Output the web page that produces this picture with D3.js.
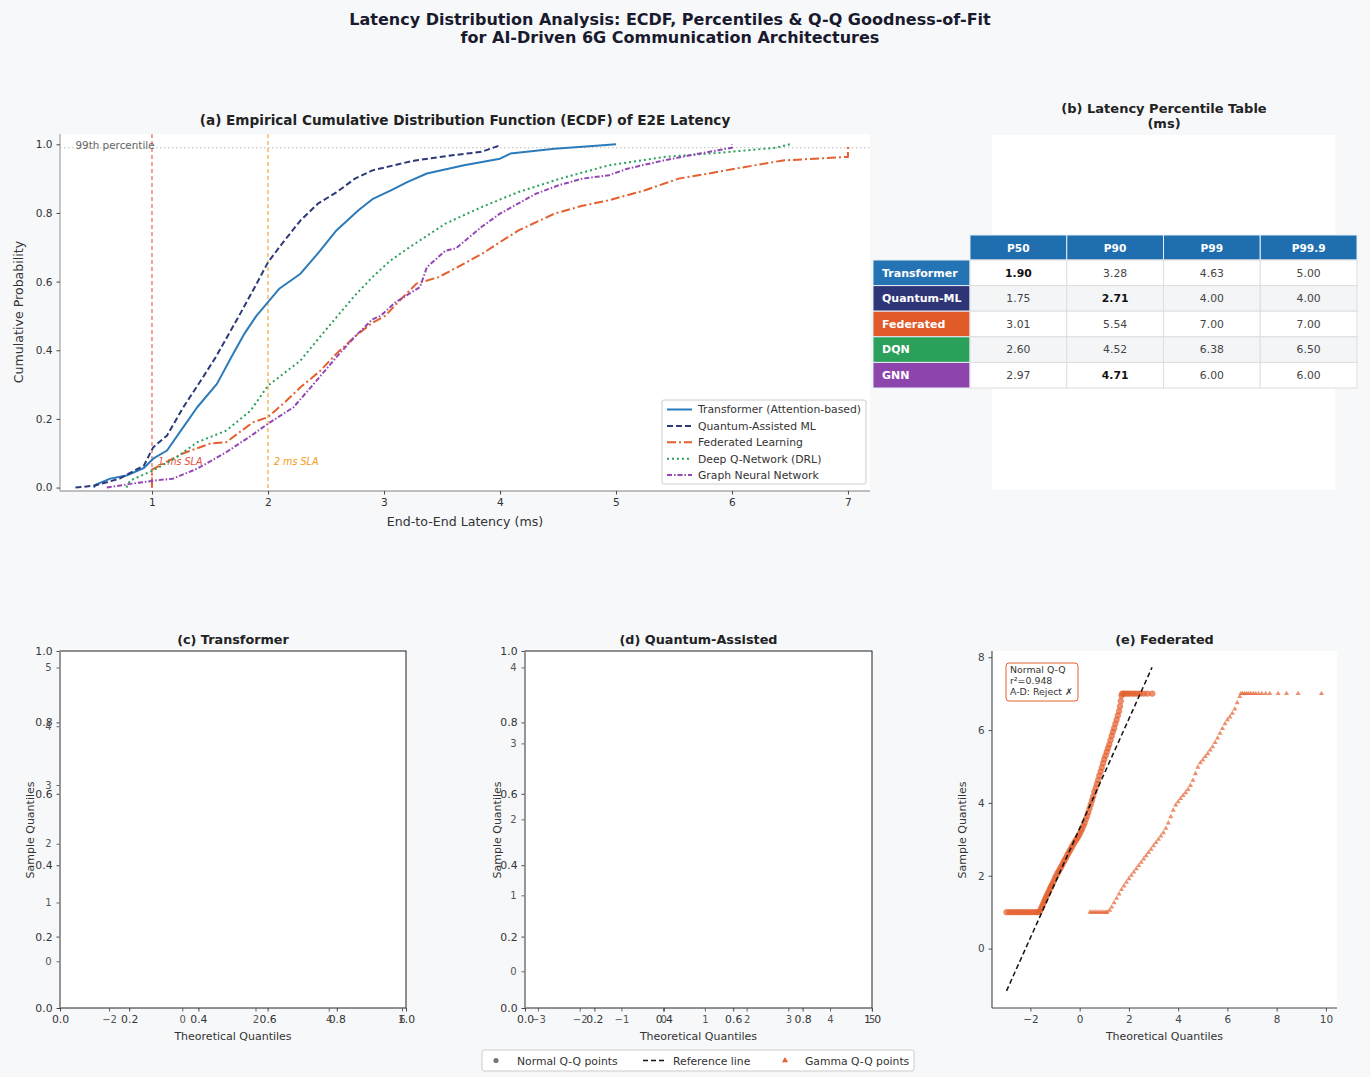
<!DOCTYPE html>
<html><head><meta charset="utf-8">
<script src="https://cdn.jsdelivr.net/npm/d3@7"></script>
<style>body{margin:0;background:#f7f8fa} text{font-family:"DejaVu Sans",sans-serif}</style>
</head><body><svg id="c" width="1370" height="1077"></svg>
<script>
// ---------------- DATA ----------------
const models = ["Transformer (Attention-based)","Quantum-Assisted ML","Federated Learning","Deep Q-Network (DRL)","Graph Neural Network"];
const modelColors = ["#2b7bba","#2c3a7a","#e4602e","#2ca05a","#9446b5"];
const modelDash = ["none","6,3","9,3,2,3","2,3","5,2,1.5,2"];

const ecdfTransformer = [[0.50,0.0],[0.51,0.008],[0.64,0.026],[0.78,0.035],[0.93,0.057],[1.01,0.084],[1.13,0.108],[1.27,0.176],[1.39,0.234],[1.56,0.302],[1.70,0.39],[1.80,0.45],[1.90,0.50],[2.00,0.54],[2.10,0.58],[2.28,0.623],[2.45,0.69],[2.59,0.749],[2.78,0.808],[2.90,0.84],[3.06,0.866],[3.20,0.89],[3.37,0.915],[3.69,0.939],[4.00,0.958],[4.09,0.973],[4.47,0.987],[4.80,0.995],[5.00,1.0]];
const ecdfQuantum = [[0.34,0.0],[0.51,0.006],[0.72,0.026],[0.93,0.064],[1.01,0.117],[1.13,0.152],[1.27,0.234],[1.41,0.306],[1.55,0.38],[1.65,0.44],[1.75,0.50],[1.88,0.58],[2.00,0.656],[2.12,0.71],[2.28,0.778],[2.43,0.827],[2.59,0.86],[2.75,0.90],[2.90,0.924],[3.15,0.944],[3.27,0.953],[3.59,0.968],[3.84,0.978],[4.00,0.997],[4.00,1.0]];
const ecdfFederated = [[1.00,0.0],[1.00,0.052],[1.10,0.07],[1.27,0.10],[1.50,0.128],[1.64,0.132],[1.75,0.16],[1.87,0.19],[2.00,0.205],[2.15,0.25],[2.28,0.292],[2.45,0.34],[2.59,0.39],[2.75,0.44],[2.90,0.48],[3.01,0.50],[3.15,0.55],[3.28,0.594],[3.47,0.613],[3.65,0.645],[3.84,0.68],[4.00,0.715],[4.16,0.749],[4.47,0.798],[4.70,0.82],[4.94,0.837],[5.25,0.866],[5.54,0.90],[5.80,0.915],[6.03,0.929],[6.44,0.953],[6.98,0.963],[7.00,0.963],[7.00,1.0]];
const ecdfDQN = [[0.78,0.0],[0.81,0.02],[1.01,0.05],[1.21,0.088],[1.39,0.132],[1.64,0.166],[1.85,0.224],[2.00,0.297],[2.28,0.37],[2.45,0.44],[2.60,0.50],[2.75,0.56],[2.90,0.613],[3.05,0.66],[3.22,0.70],[3.53,0.769],[3.84,0.817],[4.16,0.861],[4.52,0.90],[4.94,0.939],[5.41,0.963],[5.88,0.975],[6.38,0.99],[6.50,1.0]];
const ecdfGNN = [[0.61,0.0],[0.80,0.01],[1.01,0.02],[1.18,0.026],[1.39,0.055],[1.64,0.103],[1.85,0.15],[2.00,0.186],[2.22,0.234],[2.42,0.312],[2.59,0.38],[2.75,0.44],[2.90,0.49],[2.97,0.50],[3.10,0.54],[3.31,0.584],[3.37,0.642],[3.53,0.69],[3.62,0.697],[3.84,0.759],[4.00,0.798],[4.31,0.856],[4.50,0.88],[4.71,0.90],[4.94,0.91],[5.10,0.929],[5.41,0.953],[5.72,0.973],[6.00,0.99],[6.00,1.0]];
const ecdfSeries = [ecdfTransformer, ecdfQuantum, ecdfFederated, ecdfDQN, ecdfGNN];

const ecdfXTicks = [1,2,3,4,5,6,7];
const ecdfYTicks = [0,0.2,0.4,0.6,0.8,1.0];
const slaLines = [{x:1,label:"1 ms SLA",color:"#e74c3c"},{x:2,label:"2 ms SLA",color:"#f39c12"}];
const p99Level = 0.99;

const tableRows = ["Transformer","Quantum-ML","Federated","DQN","GNN"];
const tableRowColors = ["#2474b5","#2d3577","#e05a2a","#2aa05a","#8e44ad"];
const percentileCols = ["P50","P90","P99","P99.9"];
const tableValues = [[1.90,3.28,4.63,5.00],[1.75,2.71,4.00,4.00],[3.01,5.54,7.00,7.00],[2.60,4.52,6.38,6.50],[2.97,4.71,6.00,6.00]];
const tableBold = [[0],[1],[],[],[1]];

const unitTicks = [0,0.2,0.4,0.6,0.8,1.0];
const transformerQQXTicks = [-2,0,2,4,6];
const transformerQQYTicks = [0,1,2,3,4,5];
const quantumQQXTicks = [-3,-2,-1,0,1,2,3,4,5];
const quantumQQYTicks = [0,1,2,3,4];
const federatedQQXTicks = [-2,0,2,4,6,8,10];
const federatedQQYTicks = [0,2,4,6,8];

const fedNormalQQ = [[-2.97,1],[-2.85,1],[-2.75,1],[-2.65,1],[-2.55,1],[-2.45,1],[-2.35,1],[-2.25,1],[-2.15,1],[-2.05,1],[-1.95,1],[-1.85,1],[-1.75,1],[-1.68,1],
[-1.62,1.02],[-1.58,1.08],[-1.54,1.14],[-1.50,1.20],[-1.46,1.27],[-1.42,1.33],[-1.38,1.39],[-1.34,1.45],[-1.30,1.50],[-1.26,1.56],[-1.22,1.62],[-1.18,1.68],[-1.14,1.73],[-1.10,1.79],[-1.05,1.86],[-1.00,1.94],[-0.95,2.00],[-0.90,2.07],[-0.85,2.13],[-0.80,2.19],[-0.75,2.25],[-0.70,2.31],[-0.65,2.38],[-0.60,2.44],[-0.55,2.50],[-0.50,2.57],[-0.45,2.63],[-0.40,2.69],[-0.35,2.75],[-0.30,2.81],[-0.25,2.87],[-0.20,2.93],[-0.15,2.98],[-0.10,3.03],[-0.05,3.09],[0.00,3.15],[0.05,3.22],[0.10,3.29],[0.15,3.37],[0.20,3.45],[0.25,3.55],[0.30,3.64],[0.35,3.74],[0.40,3.85],[0.45,3.96],[0.50,4.07],[0.55,4.18],[0.60,4.30],[0.65,4.41],[0.70,4.52],[0.75,4.63],[0.80,4.75],[0.85,4.86],[0.90,4.97],[0.95,5.09],[1.00,5.20],[1.05,5.30],[1.10,5.40],[1.15,5.50],[1.20,5.60],[1.25,5.72],[1.30,5.84],[1.35,5.95],[1.40,6.05],[1.45,6.17],[1.50,6.28],[1.55,6.40],[1.60,6.52],[1.64,6.65],[1.67,6.80],[1.70,6.95],
[1.73,7],[1.80,7],[1.88,7],[1.96,7],[2.05,7],[2.15,7],[2.25,7],[2.35,7],[2.47,7],[2.60,7],[2.75,7],[2.95,7]];
const fedGammaQQ = [[0.42,1],[0.50,1],[0.58,1],[0.66,1],[0.74,1],[0.82,1],[0.90,1],[0.98,1],[1.06,1],[1.12,1],
[1.22,1.05],[1.30,1.14],[1.40,1.26],[1.50,1.38],[1.60,1.50],[1.70,1.62],[1.80,1.72],[1.90,1.82],[2.00,1.92],[2.10,2.01],[2.20,2.10],[2.30,2.19],[2.40,2.28],[2.50,2.37],[2.60,2.46],[2.70,2.55],[2.80,2.64],[2.90,2.73],[3.00,2.82],[3.10,2.91],[3.20,3.00],[3.30,3.09],[3.40,3.18],[3.50,3.30],[3.60,3.45],[3.70,3.62],[3.80,3.80],[3.90,3.94],[4.00,4.03],[4.10,4.12],[4.20,4.20],[4.30,4.28],[4.40,4.37],[4.50,4.48],[4.60,4.62],[4.70,4.80],[4.80,4.98],[4.90,5.10],[5.00,5.18],[5.10,5.27],[5.20,5.35],[5.30,5.45],[5.40,5.54],[5.50,5.66],[5.60,5.78],[5.70,5.91],[5.80,6.04],[5.90,6.17],[6.00,6.28],[6.10,6.36],[6.20,6.46],[6.30,6.58],[6.40,6.75],[6.50,6.92],
[6.55,7],[6.62,7],[6.70,7],[6.78,7],[6.86,7],[6.95,7],[7.05,7],[7.15,7],[7.27,7],[7.40,7],[7.55,7],[7.72,7],[8.06,7],[8.40,7],[8.87,7],[9.82,7]];
const fedRefLine = [[-2.97,-1.16],[2.94,7.72]];
const fedStatsText = ["Normal Q-Q","r²=0.948","A-D: Reject ✗"];

// ---------------- DRAW ----------------
const svg = d3.select("#c");
const FONT = "DejaVu Sans, sans-serif";
svg.append("rect").attr("width",1370).attr("height",1077).attr("fill","#f7f8fa");

function txt(x,y,s,o={}) {
  const t = svg.append("text").attr("x",x).attr("y",y).text(s)
    .attr("font-size",o.size||10).attr("fill",o.fill||"#222")
    .attr("text-anchor",o.anchor||"start");
  if (o.bold) t.attr("font-weight","bold");
  if (o.italic) t.attr("font-style","italic");
  if (o.rotate) t.attr("transform",`rotate(-90,${x},${y})`);
  return t;
}
function styleAxis(g,color,size) {
  g.select(".domain").remove();
  g.selectAll("text").attr("font-family",FONT).attr("font-size",size||10.6).attr("fill",color);
  g.selectAll("line").attr("stroke",color).attr("stroke-width",0.9);
}

// Super title
txt(670,25,"Latency Distribution Analysis: ECDF, Percentiles & Q-Q Goodness-of-Fit",{size:16,bold:true,anchor:"middle",fill:"#1a1a2e"});
txt(670,43,"for AI-Driven 6G Communication Architectures",{size:16,bold:true,anchor:"middle",fill:"#1a1a2e"});

// ----- (a) ECDF -----
const ax = {l:60,r:870,t:134,b:491};
const xE = d3.scaleLinear().domain([0.207,7.19]).range([ax.l,ax.r]);
const yE = d3.scaleLinear().domain([-0.01,1.03]).range([ax.b,ax.t]);
svg.append("rect").attr("x",ax.l).attr("y",ax.t).attr("width",ax.r-ax.l).attr("height",ax.b-ax.t).attr("fill","#fff");
txt(465,125,"(a) Empirical Cumulative Distribution Function (ECDF) of E2E Latency",{size:13.6,bold:true,anchor:"middle"});

// 99th percentile line
svg.append("line").attr("x1",ax.l).attr("x2",ax.r).attr("y1",yE(p99Level)).attr("y2",yE(p99Level))
  .attr("stroke","#bbb").attr("stroke-width",1).attr("stroke-dasharray","1.5,2.5");
txt(xE(0.34),yE(p99Level)+1,"99th percentile",{size:10.4,fill:"#666"});

slaLines.forEach(s=>{
  svg.append("line").attr("x1",xE(s.x)).attr("x2",xE(s.x)).attr("y1",ax.t).attr("y2",ax.b)
    .attr("stroke",s.color).attr("stroke-width",1.2).attr("stroke-dasharray","4,3").attr("opacity",0.85);
  txt(xE(s.x)+6,yE(0.065),s.label,{size:9.6,italic:true,fill:s.color});
});

const lineGen = d3.line().x(d=>xE(d[0])).y(d=>yE(d[1]));
ecdfSeries.forEach((s,i)=>{
  svg.append("path").attr("d",lineGen(s)).attr("fill","none").attr("stroke",modelColors[i])
    .attr("stroke-width",2).attr("stroke-dasharray",modelDash[i]==="none"?null:modelDash[i]).attr("stroke-linejoin","round");
});

// spines
svg.append("line").attr("x1",ax.l).attr("x2",ax.l).attr("y1",ax.t).attr("y2",ax.b).attr("stroke","#aaa").attr("stroke-width",1.3);
svg.append("line").attr("x1",ax.l).attr("x2",ax.r).attr("y1",ax.b).attr("y2",ax.b).attr("stroke","#aaa").attr("stroke-width",1.3);
styleAxis(svg.append("g").attr("transform",`translate(${ax.l},0)`).call(d3.axisLeft(yE).tickValues(ecdfYTicks).tickFormat(d3.format(".1f")).tickSize(3.5).tickPadding(4)),"#333");
styleAxis(svg.append("g").attr("transform",`translate(0,${ax.b})`).call(d3.axisBottom(xE).tickValues(ecdfXTicks).tickFormat(d3.format("d")).tickSize(3.5).tickPadding(4)),"#333");
txt(23,312,"Cumulative Probability",{size:12.6,anchor:"middle",rotate:true,fill:"#333"});
txt(465,526,"End-to-End Latency (ms)",{size:12.6,anchor:"middle",fill:"#333"});

// legend
const lg = svg.append("g").attr("transform","translate(662,400)");
lg.append("rect").attr("width",204).attr("height",84).attr("rx",2).attr("fill","#fff").attr("stroke","#ccc");
models.forEach((m,i)=>{
  const yy = 9.5+i*16.4;
  lg.append("line").attr("x1",5).attr("x2",30).attr("y1",yy).attr("y2",yy).attr("stroke",modelColors[i]).attr("stroke-width",2)
    .attr("stroke-dasharray",modelDash[i]==="none"?null:modelDash[i]);
  lg.append("text").attr("x",36).attr("y",yy+3.8).attr("font-size",10.8).attr("fill","#333").text(m);
});

// ----- (b) Table -----
svg.append("rect").attr("x",992).attr("y",135).attr("width",343).attr("height",355).attr("fill","#fff");
txt(1164,113,"(b) Latency Percentile Table",{size:13,bold:true,anchor:"middle"});
txt(1164,128,"(ms)",{size:13,bold:true,anchor:"middle"});
const colBand = d3.scaleBand().domain(percentileCols).range([970,1357]);
const rowBand = d3.scaleBand().domain(tableRows).range([260,388]);
percentileCols.forEach(c=>{
  svg.append("rect").attr("x",colBand(c)).attr("y",235).attr("width",colBand.bandwidth()).attr("height",25)
    .attr("fill","#1f6eb0").attr("stroke","#e6edf4").attr("stroke-width",1);
  txt(colBand(c)+colBand.bandwidth()/2,251.5,c,{size:10.6,bold:true,fill:"#fff",anchor:"middle"});
});
tableRows.forEach((r,i)=>{
  const y0 = rowBand(r), h = rowBand.bandwidth();
  svg.append("rect").attr("x",873).attr("y",y0).attr("width",97).attr("height",h).attr("fill",tableRowColors[i]).attr("stroke","#e6edf4");
  txt(882,y0+h/2+3.8,r,{size:11,bold:true,fill:"#fff"});
  percentileCols.forEach((c,j)=>{
    svg.append("rect").attr("x",colBand(c)).attr("y",y0).attr("width",colBand.bandwidth()).attr("height",h)
      .attr("fill",i%2===1?"#f4f5f7":"#fff").attr("stroke","#dedede");
    txt(colBand(c)+colBand.bandwidth()/2,y0+h/2+3.8,tableValues[i][j].toFixed(2),
      {size:10.8,anchor:"middle",fill:tableBold[i].includes(j)?"#111":"#444",bold:tableBold[i].includes(j)});
  });
});

// ----- Q-Q panels -----
const qqTop = 651, qqBot = 1008;
function emptyQQ(x0,x1,title,xTicks,yTicks,xDom,yDom,ylabX) {
  svg.append("rect").attr("x",x0).attr("y",qqTop).attr("width",x1-x0).attr("height",qqBot-qqTop).attr("fill","#fff")
    .attr("stroke","#222").attr("stroke-width",1);
  const cx = (x0+x1)/2;
  txt(cx,644,title,{size:12.8,bold:true,anchor:"middle"});
  const xu = d3.scaleLinear().domain([0,1]).range([x0,x1]);
  const yu = d3.scaleLinear().domain([0,1]).range([qqBot,qqTop]);
  const xq = d3.scaleLinear().domain(xDom).range([x0,x1]);
  const yq = d3.scaleLinear().domain(yDom).range([qqBot,qqTop]);
  styleAxis(svg.append("g").attr("transform",`translate(${x0},0)`).call(d3.axisLeft(yu).tickValues(unitTicks).tickFormat(d3.format(".1f")).tickSize(3.5).tickPadding(4)),"#333",10.8);
  styleAxis(svg.append("g").attr("transform",`translate(0,${qqBot})`).call(d3.axisBottom(xu).tickValues(unitTicks).tickFormat(d3.format(".1f")).tickSize(3.5).tickPadding(4)),"#333",10.8);
  styleAxis(svg.append("g").attr("transform",`translate(${x0},0)`).call(d3.axisLeft(yq).tickValues(yTicks).tickFormat(d=>String(d).replace("-","−")).tickSize(3.5).tickPadding(5)),"#555",10);
  styleAxis(svg.append("g").attr("transform",`translate(0,${qqBot})`).call(d3.axisBottom(xq).tickValues(xTicks).tickFormat(d=>String(d).replace("-","−")).tickSize(3.5).tickPadding(4)),"#555",10);
  svg.append("line").attr("x1",x0).attr("x2",x0).attr("y1",qqTop).attr("y2",qqBot).attr("stroke","#999").attr("stroke-width",1.5);
  txt(ylabX,830,"Sample Quantiles",{size:11,anchor:"middle",rotate:true,fill:"#333"});
  txt(cx,1040,"Theoretical Quantiles",{size:11,anchor:"middle",fill:"#333"});
}
emptyQQ(60,406,"(c) Transformer",transformerQQXTicks,transformerQQYTicks,[-3.34,6.11],[-0.795,5.28],34);
emptyQQ(525,872,"(d) Quantum-Assisted",quantumQQXTicks,quantumQQYTicks,[-3.31,5.005],[-0.483,4.216],501);

// (e) Federated
const ex0=992, ex1=1337;
svg.append("rect").attr("x",ex0).attr("y",qqTop).attr("width",ex1-ex0).attr("height",qqBot-qqTop).attr("fill","#fff");
txt((ex0+ex1)/2,644,"(e) Federated",{size:12.8,bold:true,anchor:"middle"});
const xF = d3.scaleLinear().domain([-3.56,10.45]).range([ex0,ex1]);
const yF = d3.scaleLinear().domain([-1.63,8.17]).range([qqBot,qqTop]);
const fedColor = modelColors[2];
svg.append("g").selectAll("circle").data(fedNormalQQ).join("circle")
  .attr("cx",d=>xF(d[0])).attr("cy",d=>yF(d[1])).attr("r",2.9)
  .attr("fill",fedColor).attr("fill-opacity",0.7).attr("stroke",fedColor).attr("stroke-opacity",0.6).attr("stroke-width",0.6);
const tri = d3.symbol().type(d3.symbolTriangle).size(11);
svg.append("g").selectAll("path").data(fedGammaQQ).join("path")
  .attr("d",tri).attr("transform",d=>`translate(${xF(d[0])},${yF(d[1])})`)
  .attr("fill",fedColor).attr("fill-opacity",0.7);
svg.append("path").attr("d",d3.line().x(d=>xF(d[0])).y(d=>yF(d[1]))(fedRefLine))
  .attr("stroke","#111").attr("stroke-width",1.5).attr("stroke-dasharray","5,3").attr("fill","none");
// stats box
svg.append("rect").attr("x",1006).attr("y",663).attr("width",72).attr("height",38).attr("rx",3)
  .attr("fill","#fff").attr("stroke",fedColor).attr("stroke-width",1);
fedStatsText.forEach((s,i)=>txt(1010,673+i*11,s,{size:9.4,fill:"#333"}));
svg.append("line").attr("x1",ex0).attr("x2",ex0).attr("y1",qqTop).attr("y2",qqBot).attr("stroke","#444").attr("stroke-width",1.1);
svg.append("line").attr("x1",ex0).attr("x2",ex1).attr("y1",qqBot).attr("y2",qqBot).attr("stroke","#444").attr("stroke-width",1.1);
styleAxis(svg.append("g").attr("transform",`translate(${ex0},0)`).call(d3.axisLeft(yF).tickValues(federatedQQYTicks).tickFormat(d3.format("d")).tickSize(3.5).tickPadding(4)),"#444",10.4);
styleAxis(svg.append("g").attr("transform",`translate(0,${qqBot})`).call(d3.axisBottom(xF).tickValues(federatedQQXTicks).tickFormat(d=>String(d).replace("-","−")).tickSize(3.5).tickPadding(4)),"#444",10.4);
txt(966,830,"Sample Quantiles",{size:11,anchor:"middle",rotate:true,fill:"#333"});
txt((ex0+ex1)/2,1040,"Theoretical Quantiles",{size:11,anchor:"middle",fill:"#333"});

// bottom legend
const bl = svg.append("g").attr("transform","translate(482,1050)");
bl.append("rect").attr("width",432).attr("height",21).attr("rx",2).attr("fill","#fff").attr("stroke","#ccc");
bl.append("circle").attr("cx",14).attr("cy",10.5).attr("r",2.6).attr("fill","#777");
bl.append("text").attr("x",35).attr("y",14.5).attr("font-size",10.8).attr("fill","#333").text("Normal Q-Q points");
bl.append("line").attr("x1",161).attr("x2",184).attr("y1",10.5).attr("y2",10.5).attr("stroke","#111").attr("stroke-width",1.5).attr("stroke-dasharray","5,3");
bl.append("text").attr("x",191).attr("y",14.5).attr("font-size",10.8).attr("fill","#333").text("Reference line");
bl.append("path").attr("d",d3.symbol().type(d3.symbolTriangle).size(16)).attr("transform","translate(303,10.5)").attr("fill",fedColor);
bl.append("text").attr("x",323).attr("y",14.5).attr("font-size",10.8).attr("fill","#333").text("Gamma Q-Q points");
</script></body></html>
